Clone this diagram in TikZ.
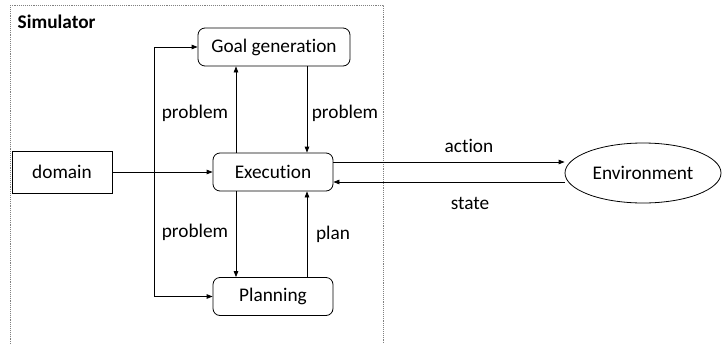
\documentclass[tikz,border=0pt]{standalone}
\usepackage{fontspec}
\setmainfont[Ligatures={NoCommon}]{Carlito}
\usetikzlibrary{arrows.meta,shapes.geometric}

\begin{document}
\begin{tikzpicture}[x=1pt,y=-1pt,
  line width=0.8pt,font=\fontsize{19.3}{22}\selectfont,
  proc node/.style={draw,rounded corners=7pt,minimum width=120pt,minimum height=38pt,inner sep=0pt},
  data node/.style={draw,minimum width=100pt,minimum height=42pt,inner sep=0pt},
  arr/.style={-{Triangle[length=6pt,width=4.5pt]}}]

  \useasboundingbox (0,0) rectangle (722,343);

  % simulator frame
  \draw[gray,densely dotted,line width=0.9pt] (10,5) rectangle (383,360);
  \node[anchor=west,font=\fontsize{19.3}{22}\selectfont\bfseries] (sim) at (14,22) {Simulator};

  \node[proc node,minimum width=152pt] (goal) at (274,47) {Goal generation};
  \node[proc node] (exec) at (273,172) {Execution};
  \node[proc node] (plan) at (273,296.5) {Planning};
  \node[data node] (domain) at (62,172) {domain};
  \node[ellipse,draw,minimum width=156pt,minimum height=60pt,inner sep=0pt] (env) at (643,173) {Environment};

  \coordinate (lx) at (236,0);
  \coordinate (rx) at (307,0);
  \coordinate (split) at (154,172);

  % domain feeds everything
  \draw[arr] (domain.east) -- (exec.west);
  \draw[arr] (split) |- (goal.west);
  \draw[arr] (split) |- (plan.west);

  % problem / plan loops
  \draw[arr] (exec.north -| lx) -- (goal.south -| lx);
  \draw[arr] (goal.south -| rx) -- (exec.north -| rx);
  \draw[arr] (exec.south -| lx) -- (plan.north -| lx);
  \draw[arr] (plan.north -| rx) -- (exec.south -| rx);

  \node (p1) at (195,113) {problem};
  \node (p2) at (345,113) {problem};
  \node (p3) at (195,232) {problem};
  \node (p4) at (333,234) {plan};

  % environment
  \draw[arr] ([yshift=10pt]exec.east) -- ([yshift=10pt]exec.east -| env.west);
  \draw[arr] ([yshift=-10pt]exec.east -| env.west) -- ([yshift=-10pt]exec.east);
  \node (act) at (469,146) {action};
  \node (st) at (470,203) {state};
\end{tikzpicture}
\end{document}
